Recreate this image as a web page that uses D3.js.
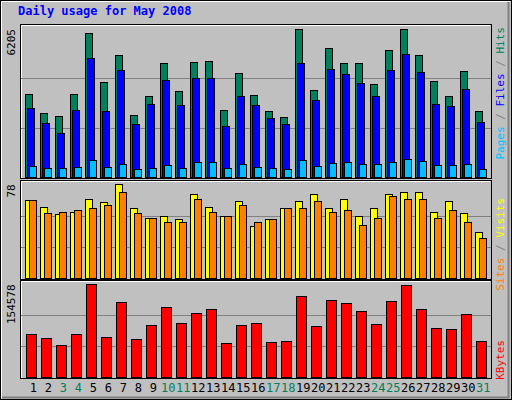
<!DOCTYPE html>
<html><head><meta charset="utf-8">
<script src="https://cdn.jsdelivr.net/npm/d3@7"></script>
<style>body{margin:0;background:#fff}text{font-family:"DejaVu Sans Mono",monospace;font-size:11px}</style>
</head><body><div id="chart"></div>
<script>
// values
var days = d3.range(1, 32);
var weekend = [3, 4, 10, 11, 17, 18, 24, 25, 31];
var hits = [3468,2668,2541,3468,6037,3973,5110,2583,3384,4773,3594,4816,4858,2794,4352,3426,2752,2499,6205,3636,5405,4773,4773,3889,5321,6200,5110,4015,3384,4437,2752];
var files = [2878,2246,1825,2794,4984,2752,4479,2204,3047,4058,3005,4142,4142,2120,3384,3005,2457,2204,4774,3215,4521,4310,3931,3384,4479,5153,4395,3047,2962,3678,2289];
var pages = [477,393,393,435,730,435,562,351,393,519,393,646,646,393,562,435,393,351,730,477,604,646,562,562,646,772,688,519,519,562,351];
var visits = [65,59,53,55,66,63,78,58,50,52,49,70,59,52,64,43,49,58,64,70,58,66,52,58,70,72,72,55,64,54,38];
var sites = [65,54,55,57,58,61,72,54,50,47,47,66,55,52,61,47,49,58,58,64,55,57,44,50,68,66,66,50,57,47,33];
var kbytes = [71341,64547,52657,71341,154578,66245,125696,62848,86629,117203,90026,107012,113806,56054,86629,90026,57752,59451,135888,84930,129094,123998,110409,88327,127395,154200,113806,81533,79834,105313,59451];

var svg = d3.select("#chart").append("svg").attr("width", 512).attr("height", 400);

// outer frame
svg.append("rect").attr("x", 0.5).attr("y", 0.5).attr("width", 511).attr("height", 399)
  .attr("fill", "#c0c0c0").attr("stroke", "#000");
svg.append("path").attr("d", "M1.5,398.5V1.5H510.5").attr("fill", "none").attr("stroke", "#fff");
svg.append("path").attr("d", "M2,397.5H508.5V2").attr("fill", "none").attr("stroke", "#808080").attr("stroke-width", 2);

svg.append("text").attr("x", 18).attr("y", 15).attr("fill", "#0000ff")
  .style("font-weight", "bold").style("font-size", "12px").text("Daily usage for May 2008");

var x = d3.scaleLinear().domain([1, 31]).range([25.3, 475.3]);

function panel(top, bottom, maxTop, maxVal, gridVals) {
  svg.append("rect").attr("x", 20.5).attr("y", top + 0.5).attr("width", 471).attr("height", bottom - top)
    .attr("fill", "#c0c0c0").attr("stroke", "#000");
  svg.append("path").attr("d", "M21.5," + (bottom) + "V" + (top + 1.5) + "H490.5")
    .attr("fill", "none").attr("stroke", "#fff");
  var y = d3.scaleLinear().domain([0, maxVal]).range([bottom - 1, maxTop]);
  svg.selectAll(null).data(gridVals).enter().append("line")
    .attr("x1", 21).attr("x2", 491)
    .attr("y1", function (d) { return Math.round(y(d)) + 0.5 })
    .attr("y2", function (d) { return Math.round(y(d)) + 0.5 })
    .attr("stroke", "#808080");
  svg.append("text").attr("transform", "translate(15," + maxTop + ") rotate(-90)")
    .attr("text-anchor", "end").attr("fill", "#000").text(maxVal);
  return y;
}

function bars(data, y, off, w, color) {
  svg.append("g").selectAll("rect").data(data).enter().append("rect")
    .attr("x", function (d, i) { return Math.round(x(days[i]) + off) + 0.5 })
    .attr("y", function (d) { return Math.round(y(d)) + 0.5 })
    .attr("width", w)
    .attr("height", function (d) { return Math.round(y(0)) - Math.round(y(d)) })
    .attr("fill", color).attr("stroke", "#000");
}

function legend(xp, yTop, parts) {
  var t = svg.append("text").attr("transform", "translate(" + xp + "," + yTop + ") rotate(-90)")
    .attr("text-anchor", "end");
  parts.forEach(function (p) { t.append("tspan").attr("fill", p[1]).text(p[0]) });
}

// top: hits / files / pages
var y1 = panel(24, 178, 29, 6205, [2068, 4137]);
bars(hits, y1, 0, 7, "#00805c");
bars(files, y1, 1.5, 7, "#0000ff");
bars(pages, y1, 4, 7, "#00c0ff");
legend(504, 27, [["Pages", "#00c0ff"], [" / ", "#808080"], ["Files", "#0000ff"], [" / ", "#808080"], ["Hits", "#00805c"]]);

// middle: visits / sites
var y2 = panel(180, 279, 184.3, 78, [26, 52]);
bars(visits, y2, 0, 7, "#ffff00");
bars(sites, y2, 4, 7, "#ff8000");
legend(504, 198, [["Sites", "#ff8000"], [" / ", "#808080"], ["Visits", "#ffff00"]]);

// bottom: kbytes
var y3 = panel(280, 378, 284.3, 154578, [51526, 103052]);
bars(kbytes, y3, 1, 10, "#ff0000");
legend(504, 340, [["KBytes", "#ff0000"]]);

// day labels
svg.append("g").selectAll("text").data(days).enter().append("text")
  .attr("x", function (d) { return x(d) + 8 }).attr("y", 392).attr("text-anchor", "middle")
  .style("font-size", "12px")
  .attr("fill", function (d) { return weekend.indexOf(d) >= 0 ? "#00805c" : "#000" })
  .text(function (d) { return d });
</script></body></html>
